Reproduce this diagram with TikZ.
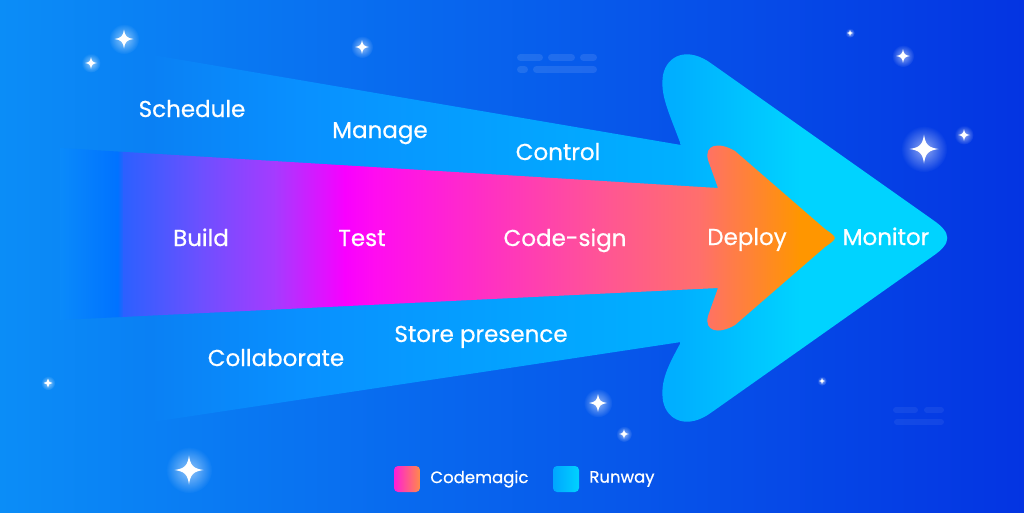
\documentclass[tikz,border=0pt]{standalone}
\usepackage{fontspec}
\setmainfont{Poppins}[BoldFont=Poppins, BoldFeatures={FakeBold=0.6}]
\usetikzlibrary{positioning,fadings}

\definecolor{bgL}{HTML}{0B8DF7}
\definecolor{bgM}{HTML}{0862EE}
\definecolor{bgR}{HTML}{0434E2}
\definecolor{rw0}{HTML}{0A80F4}
\definecolor{rw1}{HTML}{0990FF}
\definecolor{rw2}{HTML}{00B0FF}
\definecolor{rw3}{HTML}{00D3FF}
\definecolor{pk1}{HTML}{0A8AFA}
\definecolor{pk2}{HTML}{0072FF}
\definecolor{pk3}{HTML}{2C60FF}
\definecolor{pk4}{HTML}{6C50FF}
\definecolor{pk5}{HTML}{A53BFF}
\definecolor{pk6}{HTML}{F800FF}
\definecolor{pk7}{HTML}{FF0CF0}
\definecolor{pk8}{HTML}{FF2EC6}
\definecolor{pk9}{HTML}{FF5496}
\definecolor{pk10}{HTML}{FF6F6C}
\definecolor{pk11}{HTML}{FF9600}
\definecolor{cmA}{HTML}{FF1ED6}
\definecolor{cmB}{HTML}{FF8A4A}
\definecolor{rnA}{HTML}{00A6FF}
\definecolor{rnB}{HTML}{00D2FF}

\tikzfading[name=glow, inner color=transparent!45, outer color=transparent!100]

\tikzset{
  stage/.style={text=white, inner sep=0pt, anchor=base, font=\fontsize{23}{27}\selectfont\bfseries},
  legendbox/.style={minimum size=26pt, inner sep=0pt, rounded corners=4pt},
  legendtext/.style={text=white, inner sep=0pt, font=\fontsize{16.5}{20}\selectfont\bfseries},
  dashline/.style={line width=7pt, line cap=round, white},
  sparkle/.pic={
    \fill[white, path fading=glow] (0,0) circle ({1.6*#1});
    \fill[white] (#1,0) .. controls ({0.3*#1},{0.1*#1}) and ({0.1*#1},{0.3*#1}) .. (0,#1)
      .. controls ({-0.1*#1},{0.3*#1}) and ({-0.3*#1},{0.1*#1}) .. (-#1,0)
      .. controls ({-0.3*#1},{-0.1*#1}) and ({-0.1*#1},{-0.3*#1}) .. (0,-#1)
      .. controls ({0.1*#1},{-0.3*#1}) and ({0.3*#1},{-0.1*#1}) .. (#1,0) -- cycle;
  }
}

\begin{document}
\begin{tikzpicture}[x=1pt, y=-1pt]
  \useasboundingbox (0,0) rectangle (1024,512);
  % background
  \shade[left color=bgL, middle color=bgM, right color=bgR] (0,0) rectangle (1024,512);

  % Runway arrow
  \begin{scope}
    \clip (0,29) -- (681,145) .. controls (668,110) and (660,95) .. (663,75)
      .. controls (667,55) and (688,46) .. (712,64) -- (933,220)
      .. controls (952,233) and (952,243) .. (933,256) -- (712,412)
      .. controls (688,430) and (667,421) .. (663,401)
      .. controls (660,381) and (668,366) .. (681,342) -- (0,445) -- cycle;
    \foreach \xa/\xb/\ca/\cb in {0/150/bgL/rw0, 150/300/rw0/rw1, 300/681/rw1/rw2, 681/800/rw2/rw3, 800/970/rw3/rw3}
      \shade[left color=\ca, right color=\cb] ({\xa-0.5},0) rectangle (\xb,512);
  \end{scope}

  % Codemagic arrow
  \begin{scope}
    \clip (60,148) -- (718,188) -- (708,160) .. controls (704,145) and (718,141) .. (735,151)
      -- (825,229) .. controls (838,238) .. (825,247) -- (735,325)
      .. controls (718,335) and (704,331) .. (708,316) -- (718,288) -- (60,320) -- cycle;
    \foreach \xa/\xb/\ca/\cb in {60/118/pk1/pk2, 118/124/pk2/pk3, 124/200/pk3/pk4, 200/275/pk4/pk5,
        275/345/pk5/pk6, 345/375/pk6/pk7, 375/480/pk7/pk8, 480/600/pk8/pk9, 600/700/pk9/pk10,
        700/800/pk10/pk11, 800/840/pk11/pk11}
      \shade[left color=\ca, right color=\cb] ({\xa-0.5},0) rectangle (\xb,512);
  \end{scope}

  % dashes
  \draw[dashline, opacity=0.1] (520.5,57.5) -- (539.5,57.5) (551.5,57.5) -- (571.5,57.5)
    (583.5,57.5) -- (593.5,57.5) (520.5,69.5) -- (524.5,69.5) (536.5,69.5) -- (593.5,69.5);
  \draw[dashline, line width=6pt, opacity=0.06] (896,410) -- (915,410) (927,410) -- (941,410)
    (897,422) -- (941,422);

  % sparkles
  \foreach \sx/\sy/\sr in {124/39/9.5, 91/63/6, 362/47/7, 850/33/3, 903/56/7, 924/149/14.5,
      964/135/6, 48/383/4.5, 822/381/3, 598/403/9, 624/434/5, 189/470/14.5}
    \pic at (\sx,\sy) {sparkle=\sr};

  % stages
  \node[stage] (schedule) at (192,117) {Schedule};
  \node[stage] (manage) at (380,138) {Manage};
  \node[stage] (control) at (558,160) {Control};
  \node[stage] (build) at (201,246) {Build};
  \node[stage] (test) at (362,246) {Test};
  \node[stage] (codesign) at (565,246) {Code-sign};
  \node[stage] (deploy) at (747,245) {Deploy};
  \node[stage] (monitor) at (886,245) {Monitor};
  \node[stage] (store) at (481,342) {Store presence};
  \node[stage] (collab) at (276,366) {Collaborate};

  % legend
  \node[legendbox, left color=cmA, right color=cmB] (cmbox) at (407,479) {};
  \node[legendtext, right=10pt of cmbox] (cmtext) {Codemagic};
  \node[legendbox, left color=rnA, right color=rnB] (rnbox) at (566,479) {};
  \node[legendtext, right=10pt of rnbox] (rntext) {Runway};
\end{tikzpicture}
\end{document}
